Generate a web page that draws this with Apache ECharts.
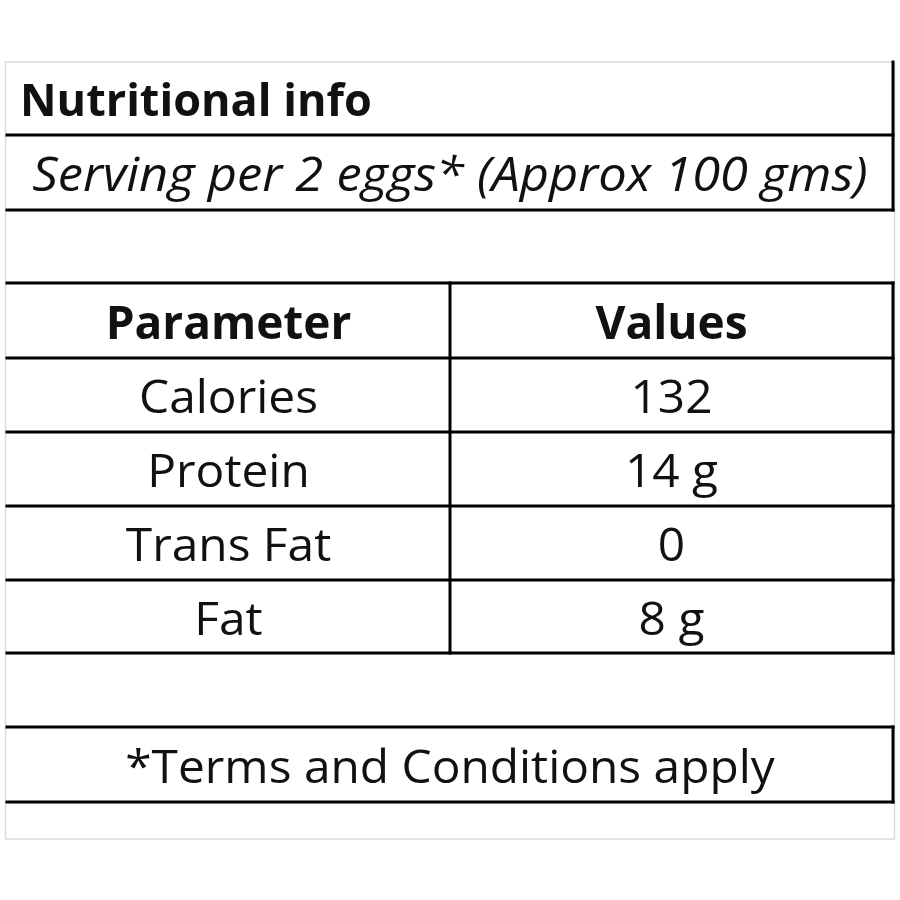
<!DOCTYPE html>
<html>
<head>
<meta charset="utf-8">
<script src="https://cdn.jsdelivr.net/npm/echarts@6/dist/echarts.min.js"></script>
<style>
html,body{margin:0;padding:0;background:#fff;}
#chart{width:900px;height:900px;}
</style>
</head>
<body>
<div id="chart"></div>
<script>
// ---- data ----
const titleText = "Nutritional info";
const servingNote = "Serving per 2 eggs* (Approx 100 gms)";
const headers = ["Parameter", "Values"];
const parameters = ["Calories", "Protein", "Trans Fat", "Fat"];
const values = ["132", "14 g", "0", "8 g"];
const footnote = "*Terms and Conditions apply";

// ---- layout (page coordinates mapped through value axes) ----
const L = { x0: 7, xMid: 450, x1: 893 };
const rowEdges = { title: [62, 135], note: [135, 210], table: [283, 358, 432, 506, 580, 653], foot: [727, 802] };
const FONT = '"Open Sans", Lato, sans-serif';
const INK = '#111';

// build cells from the data arrays
const cells = [];
cells.push({ xa: L.x0 + 13, xb: L.x0 + 13, ya: rowEdges.title[0], yb: rowEdges.title[1], text: titleText, align: 'left', weight: 'bold', style: 'normal', size: 45, sx: 1 });
cells.push({ xa: L.x0, xb: L.x1, ya: rowEdges.note[0], yb: rowEdges.note[1], text: servingNote, align: 'center', weight: 'normal', style: 'italic', size: 48, sx: 1.055 });
const tableRows = [headers].concat(parameters.map((p, i) => [p, values[i]]));
tableRows.forEach((row, r) => {
  const ya = rowEdges.table[r], yb = rowEdges.table[r + 1];
  const head = r === 0;
  cells.push({ xa: L.x0, xb: L.xMid, ya, yb, text: row[0], align: 'center', weight: head ? 'bold' : 'normal', style: 'normal', size: 46, sx: head ? 1 : 1.04 });
  cells.push({ xa: L.xMid, xb: L.x1, ya, yb, text: row[1], align: 'center', weight: head ? 'bold' : 'normal', style: 'normal', size: 46, sx: head ? 1 : 1.04 });
});
cells.push({ xa: L.x0, xb: L.x1, ya: rowEdges.foot[0], yb: rowEdges.foot[1], text: footnote, align: 'center', weight: 'normal', style: 'normal', size: 46, sx: 1.04 });

// rule lines
const hLines = [rowEdges.title[1], rowEdges.note[1]].concat(rowEdges.table, rowEdges.foot);
const segs = hLines.map(y => [L.x0, y, L.x1, y]);
segs.push([L.x1, rowEdges.title[0], L.x1, rowEdges.note[1]]);
segs.push([L.x1, rowEdges.table[0], L.x1, rowEdges.table[rowEdges.table.length - 1]]);
segs.push([L.xMid, rowEdges.table[0], L.xMid, rowEdges.table[rowEdges.table.length - 1]]);
segs.push([L.x1, rowEdges.foot[0], L.x1, rowEdges.foot[1]]);

const chart = echarts.init(document.getElementById('chart'), null, { renderer: 'canvas' });
chart.setOption({
  backgroundColor: '#fff',
  animation: false,
  grid: { left: 0, right: 0, top: 0, bottom: 0 },
  xAxis: { type: 'value', min: 0, max: 900, show: false },
  yAxis: { type: 'value', min: 0, max: 900, inverse: true, show: false },
  series: [
    {
      type: 'custom',
      data: [[5.5, 62, 894.5, 839]],
      renderItem: function (params, api) {
        const p0 = api.coord([api.value(0), api.value(1)]);
        const p1 = api.coord([api.value(2), api.value(3)]);
        return { type: 'rect', shape: { x: p0[0], y: p0[1], width: p1[0] - p0[0], height: p1[1] - p0[1] },
          style: { fill: 'none', stroke: '#d9d9d9', lineWidth: 1.5 } };
      },
      silent: true
    },
    {
      type: 'custom',
      data: segs,
      renderItem: function (params, api) {
        const a = api.coord([api.value(0), api.value(1)]);
        const b = api.coord([api.value(2), api.value(3)]);
        return { type: 'line', shape: { x1: a[0], y1: a[1], x2: b[0], y2: b[1] },
          style: { stroke: '#000', lineWidth: 3, lineCap: 'square' } };
      },
      silent: true
    },
    {
      type: 'custom',
      data: cells.map((c, i) => [c.xa, c.xb, c.ya, c.yb, i]),
      renderItem: function (params, api) {
        const c = cells[params.dataIndex];
        const a = api.coord([c.xa, c.ya]);
        const b = api.coord([c.xb, c.yb]);
        const x = c.align === 'left' ? a[0] : (a[0] + b[0]) / 2;
        return { type: 'text', x: x, y: (a[1] + b[1]) / 2 + 5, scaleX: c.sx,
          style: { text: c.text, fill: INK, font: c.style + ' ' + c.weight + ' ' + c.size + 'px ' + FONT,
            align: c.align, verticalAlign: 'middle' } };
      },
      silent: true
    }
  ]
});
</script>
</body>
</html>
